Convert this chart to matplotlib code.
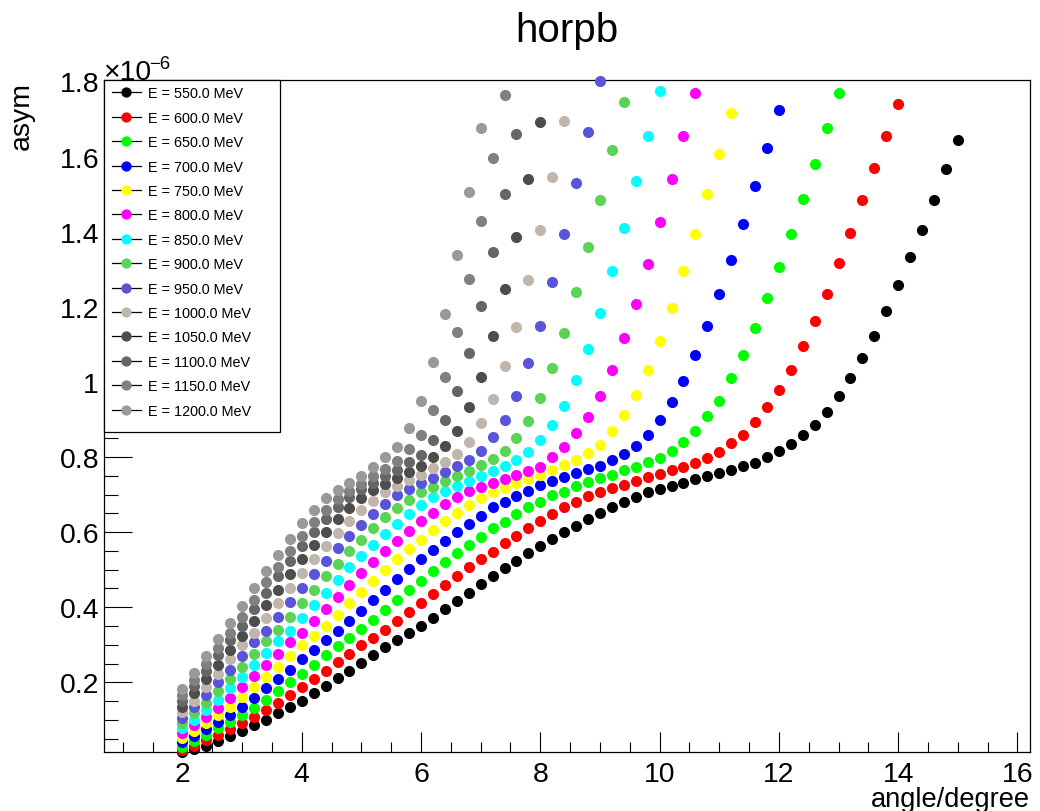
import matplotlib
matplotlib.use("Agg")
import matplotlib.pyplot as plt
from matplotlib.lines import Line2D
from matplotlib.patches import Rectangle
from matplotlib.ticker import MultipleLocator, FuncFormatter

plt.rcParams['font.family'] = ['Liberation Sans', 'DejaVu Sans']

# ---------------- data ----------------
title = "horpb"
x_label = "angle/degree"
y_label = "asym"

angles = [2.0, 2.2, 2.4, 2.6, 2.8, 3.0, 3.2, 3.4, 3.6, 3.8,
          4.0, 4.2, 4.4, 4.6, 4.8, 5.0, 5.2, 5.4, 5.6, 5.8,
          6.0, 6.2, 6.4, 6.6, 6.8, 7.0, 7.2, 7.4, 7.6, 7.8,
          8.0, 8.2, 8.4, 8.6, 8.8, 9.0, 9.2, 9.4, 9.6, 9.8,
          10.0, 10.2, 10.4, 10.6, 10.8, 11.0, 11.2, 11.4, 11.6, 11.8,
          12.0, 12.2, 12.4, 12.6, 12.8, 13.0, 13.2, 13.4, 13.6, 13.8,
          14.0, 14.2, 14.4, 14.6, 14.8, 15.0]

energies = [550, 600, 650, 700, 750, 800, 850, 900, 950, 1000, 1050, 1100, 1150, 1200]
colors = ['#000000', '#ff0000', '#00ff00', '#0000ff', '#ffff00', '#ff00ff', '#00ffff',
          '#59d454', '#5954d9', '#c0b6ac', '#4d4d4d', '#666666', '#808080', '#999999']

# asymmetry values (units of 1e-6), one list per beam energy, starting at 2.0 deg in 0.2 deg steps
asym_550 = [0.015, 0.022, 0.030, 0.045, 0.057, 0.071, 0.087, 0.100, 0.117, 0.134,
            0.150, 0.171, 0.191, 0.211, 0.230, 0.251, 0.272, 0.293, 0.313, 0.330,
            0.350, 0.372, 0.395, 0.417, 0.439, 0.461, 0.483, 0.504, 0.523, 0.544,
            0.563, 0.581, 0.601, 0.617, 0.636, 0.651, 0.667, 0.679, 0.694, 0.706,
            0.714, 0.724, 0.732, 0.741, 0.749, 0.756, 0.766, 0.776, 0.784, 0.800,
            0.816, 0.835, 0.859, 0.885, 0.921, 0.962, 1.010, 1.063, 1.122, 1.189,
            1.259, 1.332, 1.405, 1.484, 1.566, 1.643]
asym_600 = [0.021, 0.030, 0.046, 0.060, 0.075, 0.092, 0.108, 0.125, 0.144, 0.165,
            0.187, 0.209, 0.230, 0.253, 0.276, 0.299, 0.319, 0.339, 0.362, 0.387,
            0.411, 0.435, 0.459, 0.483, 0.506, 0.527, 0.547, 0.571, 0.590, 0.610,
            0.630, 0.648, 0.666, 0.681, 0.695, 0.706, 0.717, 0.725, 0.737, 0.746,
            0.755, 0.766, 0.773, 0.783, 0.796, 0.812, 0.836, 0.859, 0.894, 0.933,
            0.979, 1.032, 1.095, 1.161, 1.235, 1.317, 1.397, 1.483, 1.570, 1.654,
            1.741]
asym_650 = [0.029, 0.045, 0.060, 0.077, 0.094, 0.112, 0.132, 0.152, 0.177, 0.200,
            0.223, 0.247, 0.272, 0.297, 0.319, 0.341, 0.366, 0.393, 0.419, 0.445,
            0.471, 0.496, 0.520, 0.544, 0.566, 0.588, 0.610, 0.627, 0.648, 0.667,
            0.681, 0.699, 0.707, 0.722, 0.733, 0.744, 0.753, 0.764, 0.773, 0.786,
            0.797, 0.817, 0.839, 0.870, 0.909, 0.950, 1.009, 1.072, 1.143, 1.223,
            1.306, 1.395, 1.488, 1.581, 1.675, 1.768]
asym_700 = [0.041, 0.057, 0.075, 0.094, 0.114, 0.135, 0.158, 0.184, 0.209, 0.234,
            0.261, 0.287, 0.313, 0.336, 0.362, 0.391, 0.419, 0.447, 0.475, 0.502,
            0.527, 0.553, 0.576, 0.601, 0.622, 0.642, 0.666, 0.679, 0.695, 0.710,
            0.725, 0.737, 0.746, 0.757, 0.768, 0.777, 0.792, 0.808, 0.830, 0.858,
            0.898, 0.947, 1.001, 1.072, 1.150, 1.235, 1.324, 1.421, 1.522, 1.624,
            1.725]
asym_750 = [0.053, 0.071, 0.092, 0.112, 0.135, 0.160, 0.187, 0.214, 0.241, 0.270,
            0.299, 0.324, 0.350, 0.380, 0.411, 0.441, 0.471, 0.500, 0.527, 0.554,
            0.579, 0.605, 0.629, 0.651, 0.671, 0.690, 0.707, 0.718, 0.731, 0.742,
            0.753, 0.765, 0.778, 0.793, 0.811, 0.833, 0.868, 0.912, 0.966, 1.032,
            1.110, 1.197, 1.294, 1.395, 1.500, 1.608, 1.717]
asym_800 = [0.065, 0.087, 0.108, 0.132, 0.158, 0.187, 0.216, 0.245, 0.276, 0.306,
            0.332, 0.362, 0.395, 0.427, 0.459, 0.491, 0.520, 0.549, 0.576, 0.604,
            0.629, 0.652, 0.674, 0.694, 0.710, 0.720, 0.731, 0.742, 0.752, 0.763,
            0.774, 0.799, 0.827, 0.863, 0.906, 0.963, 1.032, 1.116, 1.208, 1.313,
            1.426, 1.539, 1.654, 1.768]
asym_850 = [0.078, 0.100, 0.125, 0.152, 0.184, 0.214, 0.245, 0.278, 0.309, 0.337,
            0.370, 0.405, 0.439, 0.473, 0.506, 0.536, 0.566, 0.596, 0.622, 0.648,
            0.671, 0.693, 0.710, 0.724, 0.737, 0.750, 0.762, 0.777, 0.792, 0.812,
            0.845, 0.885, 0.937, 1.006, 1.088, 1.184, 1.294, 1.410, 1.534, 1.654,
            1.775]
asym_900 = [0.092, 0.117, 0.144, 0.177, 0.209, 0.241, 0.276, 0.309, 0.339, 0.374,
            0.411, 0.447, 0.483, 0.516, 0.549, 0.579, 0.610, 0.639, 0.664, 0.686,
            0.707, 0.721, 0.735, 0.749, 0.762, 0.778, 0.795, 0.817, 0.850, 0.897,
            0.957, 1.037, 1.130, 1.239, 1.359, 1.485, 1.617, 1.744]
asym_950 = [0.105, 0.134, 0.165, 0.200, 0.234, 0.270, 0.306, 0.337, 0.374, 0.413,
            0.451, 0.489, 0.523, 0.558, 0.590, 0.620, 0.649, 0.675, 0.698, 0.715,
            0.731, 0.745, 0.759, 0.776, 0.793, 0.817, 0.853, 0.899, 0.963, 1.050,
            1.150, 1.267, 1.395, 1.530, 1.666, 1.800]
asym_1000 = [0.120, 0.150, 0.187, 0.223, 0.261, 0.299, 0.332, 0.370, 0.411, 0.451,
             0.491, 0.527, 0.563, 0.597, 0.629, 0.658, 0.683, 0.707, 0.723, 0.739,
             0.753, 0.770, 0.787, 0.808, 0.839, 0.890, 0.955, 1.043, 1.146, 1.270,
             1.405, 1.546, 1.694]
asym_1050 = [0.135, 0.171, 0.209, 0.247, 0.287, 0.324, 0.362, 0.405, 0.447, 0.489,
             0.527, 0.565, 0.601, 0.634, 0.664, 0.690, 0.711, 0.728, 0.745, 0.760,
             0.777, 0.799, 0.829, 0.870, 0.932, 1.014, 1.121, 1.248, 1.387, 1.539,
             1.692]
asym_1100 = [0.150, 0.191, 0.230, 0.272, 0.313, 0.350, 0.395, 0.439, 0.483, 0.523,
             0.563, 0.601, 0.636, 0.667, 0.694, 0.714, 0.732, 0.749, 0.766, 0.786,
             0.805, 0.844, 0.899, 0.977, 1.077, 1.201, 1.346, 1.499, 1.659]
asym_1150 = [0.166, 0.207, 0.249, 0.292, 0.331, 0.374, 0.420, 0.466, 0.508, 0.550,
             0.589, 0.626, 0.659, 0.688, 0.710, 0.729, 0.748, 0.768, 0.790, 0.820,
             0.859, 0.926, 1.014, 1.134, 1.275, 1.428, 1.597, 1.763]
asym_1200 = [0.182, 0.225, 0.269, 0.315, 0.359, 0.404, 0.451, 0.497, 0.540, 0.581,
             0.624, 0.660, 0.690, 0.713, 0.732, 0.750, 0.772, 0.799, 0.826, 0.877,
             0.950, 1.054, 1.181, 1.337, 1.506, 1.677]

all_asym = [asym_550, asym_600, asym_650, asym_700, asym_750, asym_800, asym_850,
            asym_900, asym_950, asym_1000, asym_1050, asym_1100, asym_1150, asym_1200]

# ---------------- layout ----------------
W, H = 1040, 812
def fx(px):
    return px / W
def fy(py):
    return 1 - py / H

fig = plt.figure(figsize=(W / 100, H / 100), dpi=100)
ax_l, ax_r, ax_t, ax_b = 104.3, 1030.0, 81.3, 753.3
ax = fig.add_axes([fx(ax_l), fy(ax_b), fx(ax_r) - fx(ax_l), fy(ax_t) - fy(ax_b)])

for i, (vals, col) in enumerate(zip(all_asym, colors)):
    ax.plot(angles[:len(vals)], vals, linestyle='none', marker='o', markersize=8.0,
            markerfacecolor=col, markeredgecolor=col, markeredgewidth=0,
            clip_on=False, zorder=3 + i)

ax.set_xlim(0.69, 16.21)
ax.set_ylim(0.0136, 1.803)

ax.xaxis.set_major_locator(MultipleLocator(2))
ax.xaxis.set_minor_locator(MultipleLocator(0.5))
ax.yaxis.set_major_locator(MultipleLocator(0.2))
ax.yaxis.set_minor_locator(MultipleLocator(0.05))
ax.xaxis.set_major_formatter(FuncFormatter(lambda v, p: f"{v:.0f}"))
ax.yaxis.set_major_formatter(FuncFormatter(lambda v, p: "1" if abs(v - 1) < 1e-6 else f"{v:.1f}"))

ax.tick_params(axis='both', which='both', direction='in', top=False, right=False,
               width=0.8, colors='black', labelsize=20.4)
ax.tick_params(axis='x', which='major', length=14.4, pad=6.5)
ax.tick_params(axis='x', which='minor', length=7.2)
ax.tick_params(axis='y', which='major', length=19.8, pad=3.8)
ax.tick_params(axis='y', which='minor', length=9.9)
for s in ax.spines.values():
    s.set_linewidth(0.9)
    s.set_color('black')

# titles
fig.text(fx((ax_l + ax_r) / 2), fy(42), title, fontsize=29, ha='center', va='baseline')
fig.text(fx(ax_r), fy(807), x_label, fontsize=19.6, ha='right', va='baseline')
fig.text(fx(29), fy(82), y_label, fontsize=20.4, rotation=90, rotation_mode='anchor',
         ha='right', va='baseline')
fig.text(fx(103), fy(80), "\u00d710", fontsize=20.4, ha='left', va='baseline')
fig.text(fx(149), fy(69), "\u22126", fontsize=13.3, ha='left', va='baseline')

# legend (ROOT style box)
leg_l, leg_r, leg_t, leg_b = 104.3, 280.0, 81.3, 433.0
fig.add_artist(Rectangle((fx(leg_l), fy(leg_b)), fx(leg_r) - fx(leg_l), fy(leg_t) - fy(leg_b),
                         transform=fig.transFigure, facecolor='white', edgecolor='black',
                         linewidth=0.9, zorder=20))
row0, pitch = 93.3, 24.4
for i, (e, col) in enumerate(zip(energies, colors)):
    yc = row0 + i * pitch
    fig.add_artist(Line2D([fx(111.7), fx(140.5)], [fy(yc), fy(yc)], color='black',
                          linewidth=0.9, transform=fig.transFigure, zorder=21))
    fig.add_artist(Line2D([fx(126.0)], [fy(yc)], linestyle='none', marker='o', markersize=7.4,
                          markerfacecolor=col, markeredgecolor=col, markeredgewidth=0,
                          transform=fig.transFigure, zorder=22))
    fig.text(fx(148.3), fy(yc + 5.2), f"E = {e:.1f} MeV", fontsize=10.4,
             ha='left', va='baseline', zorder=23)

fig.savefig("out.png", dpi=100)
